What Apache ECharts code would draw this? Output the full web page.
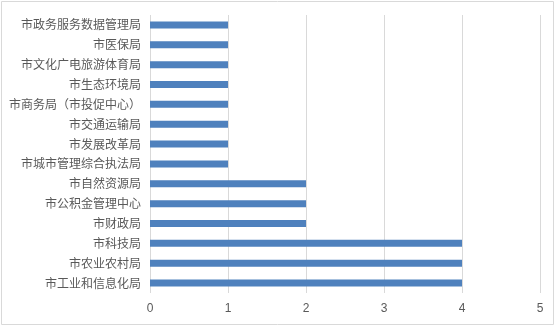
<!DOCTYPE html>
<html>
<head>
<meta charset="utf-8">
<script src="https://cdn.jsdelivr.net/npm/echarts@6/dist/echarts.min.js"></script>
<style>
  html, body { margin: 0; padding: 0; background: #fff; }
  #chart { width: 556px; height: 326px; }
</style>
</head>
<body>
<div id="chart"></div>
<script>
// 部门（从上到下）
const categories = [
  '市政务服务数据管理局', '市医保局', '市文化广电旅游体育局', '市生态环境局',
  '市商务局（市投促中心）', '市交通运输局', '市发展改革局', '市城市管理综合执法局',
  '市自然资源局', '市公积金管理中心', '市财政局', '市科技局', '市农业农村局', '市工业和信息化局'
];
const values = [1, 1, 1, 1, 1, 1, 1, 1, 2, 2, 2, 4, 4, 4];

const myChart = echarts.init(document.getElementById('chart'));
myChart.setOption({
  animation: false,
  graphic: [{
    type: 'rect',
    shape: { x: 1.5, y: 1.5, width: 552, height: 323 },
    style: { fill: 'none', stroke: '#d9d9d9', lineWidth: 1 }
  }],
  grid: { left: 150, right: 16, top: 15, bottom: 33 },
  xAxis: {
    type: 'value',
    min: 0,
    max: 5,
    interval: 1,
    axisLine: { show: false },
    axisTick: { show: false },
    axisLabel: { color: '#595959', fontSize: 12, margin: 10, fontFamily: 'Liberation Sans' },
    splitLine: { lineStyle: { color: '#d9d9d9', width: 1 } }
  },
  yAxis: {
    type: 'category',
    inverse: true,
    data: categories,
    axisLine: { show: false },
    axisTick: { show: false },
    axisLabel: { color: '#595959', fontSize: 12, margin: 9, fontFamily: 'Noto Sans CJK SC' }
  },
  series: [{
    type: 'bar',
    data: values,
    barWidth: 7,
    itemStyle: { color: '#4f81bd' }
  }]
});
</script>
</body>
</html>
